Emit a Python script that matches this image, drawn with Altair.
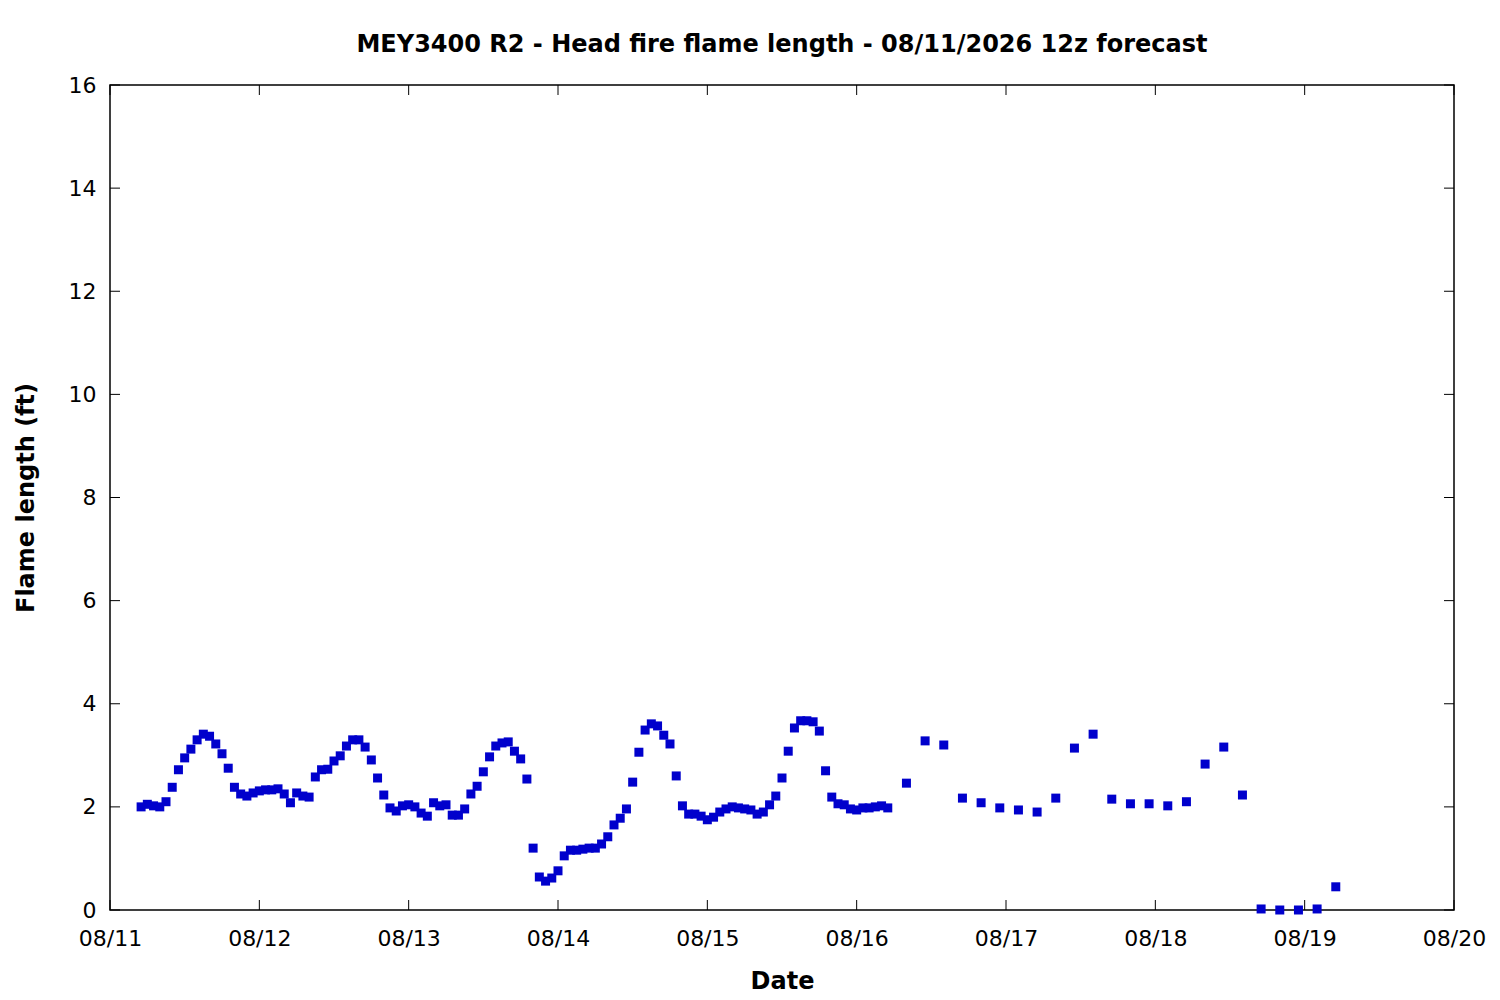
import altair as alt
import pandas as pd

# Hourly forecast values (08/11 05h .. 08/16 05h)
hourly_vals = [
    2.00, 2.05, 2.02, 2.00, 2.10, 2.38, 2.72, 2.95, 3.12, 3.30, 3.41, 3.37, 3.22, 3.03,
    2.75, 2.38, 2.25, 2.21, 2.27, 2.31, 2.33, 2.33, 2.35, 2.25, 2.08, 2.27, 2.21, 2.19,
    2.58, 2.72, 2.73, 2.89, 2.99, 3.18, 3.30, 3.30, 3.16, 2.91, 2.56, 2.23, 1.98, 1.92,
    2.02, 2.04, 2.00, 1.88, 1.82, 2.08, 2.02, 2.04, 1.84, 1.84, 1.96, 2.25, 2.40, 2.68,
    2.97, 3.18, 3.24, 3.26, 3.08, 2.93, 2.54, 1.20, 0.64, 0.56, 0.62, 0.76, 1.05, 1.16,
    1.16, 1.18, 1.20, 1.20, 1.28, 1.42, 1.65, 1.78, 1.96, 2.48, 3.06, 3.49, 3.61, 3.57,
    3.39, 3.22, 2.60, 2.02, 1.86, 1.86, 1.82, 1.75, 1.80, 1.90, 1.96, 2.00, 1.98, 1.96,
    1.94, 1.86, 1.90, 2.04, 2.21, 2.56, 3.08, 3.53, 3.67, 3.67, 3.65, 3.47, 2.70, 2.19,
    2.06, 2.04, 1.96, 1.94, 1.98, 1.98, 2.00, 2.02, 1.98,
]
hourly_start_hour = 5

# 3-hourly forecast values (08/16 08h .. 08/19 05h)
three_hourly_vals = [
    2.46, 3.28, 3.20, 2.17, 2.08, 1.98, 1.94, 1.90, 2.17, 3.14, 3.41, 2.15,
    2.06, 2.06, 2.02, 2.10, 2.83, 3.16, 2.23, 0.02, 0.00, 0.00, 0.02, 0.45,
]
three_hourly_start_hour = 128

y_ticks = [0, 2, 4, 6, 8, 10, 12, 14, 16]
x_tick_days = [11, 12, 13, 14, 15, 16, 17, 18, 19, 20]

title_text = "MEY3400 R2 - Head fire flame length - 08/11/2026 12z forecast"
x_title = "Date"
y_title = "Flame length (ft)"

base_time = pd.Timestamp("2026-08-11T00:00:00Z")
hours = [hourly_start_hour + i for i in range(len(hourly_vals))] + \
        [three_hourly_start_hour + 3 * i for i in range(len(three_hourly_vals))]
df = pd.DataFrame({
    "t": [(base_time + pd.Timedelta(hours=h)).strftime("%Y-%m-%dT%H:%M:%SZ") for h in hours],
    "v": hourly_vals + three_hourly_vals,
})
xt_df = pd.DataFrame({"t": [f"2026-08-{d:02d}T00:00:00Z" for d in x_tick_days]})
yt_df = pd.DataFrame({"v": y_ticks})

W, H = 1344, 825
TL = 10
FONT = "DejaVu Sans"
LFS = 22
TFS = 24

xscale = alt.Scale(type="utc", domain=["2026-08-11T00:00:00Z", "2026-08-20T00:00:00Z"], nice=False)
yscale = alt.Scale(domain=[0, 16], nice=False)

x_axis = alt.Axis(
    values=[alt.DateTime(year=2026, month=8, date=d, utc=True) for d in x_tick_days],
    labelExpr="utcFormat(datum.value, '%m/%d')", ticks=False, domain=False, grid=False,
    labelFlush=False, labelOverlap=False, labelBound=False,
    labelPadding=18, title=x_title, titlePadding=20,
    labelFont=FONT, labelFontSize=LFS, labelColor="black",
    titleFont=FONT, titleFontSize=TFS, titleFontWeight="bold", titleColor="black",
)
y_axis = alt.Axis(values=y_ticks, ticks=False, domain=False, grid=False,
                  labelFlush=False, labelOverlap=False,
                  labelPadding=14, title=y_title, titlePadding=30,
                  labelFont=FONT, labelFontSize=LFS, labelColor="black",
                  titleFont=FONT, titleFontSize=TFS, titleFontWeight="bold", titleColor="black")

points = alt.Chart(df).mark_square(size=81, color="#0000cc", opacity=1).encode(
    x=alt.X("t:T", scale=xscale, axis=x_axis),
    y=alt.Y("v:Q", scale=yscale, axis=y_axis),
)

ytick_l = alt.Chart(yt_df).mark_rule(color="black", strokeWidth=1).encode(
    y=alt.Y("v:Q", scale=yscale, axis=y_axis), x=alt.value(0), x2=alt.value(TL))
ytick_r = alt.Chart(yt_df).mark_rule(color="black", strokeWidth=1).encode(
    y=alt.Y("v:Q", scale=yscale, axis=y_axis), x=alt.value(W - TL), x2=alt.value(W))
xtick_b = alt.Chart(xt_df).mark_rule(color="black", strokeWidth=1).encode(
    x=alt.X("t:T", scale=xscale, axis=x_axis), y=alt.value(H), y2=alt.value(H - TL))
xtick_t = alt.Chart(xt_df).mark_rule(color="black", strokeWidth=1).encode(
    x=alt.X("t:T", scale=xscale, axis=x_axis), y=alt.value(0), y2=alt.value(TL))

chart = alt.layer(points, ytick_l, ytick_r, xtick_b, xtick_t).properties(
    width=W, height=H,
    background="white",
    title=alt.TitleParams(title_text, font=FONT, fontSize=24, fontWeight="bold",
                          color="black", anchor="middle", offset=17),
    autosize=alt.AutoSizeParams(type="none"),
    padding={"left": 102, "top": 77, "right": 38, "bottom": 90},
).configure_view(stroke="black", strokeWidth=1.5)

chart.save("out.html", embed_options={"renderer": "svg", "actions": False})
